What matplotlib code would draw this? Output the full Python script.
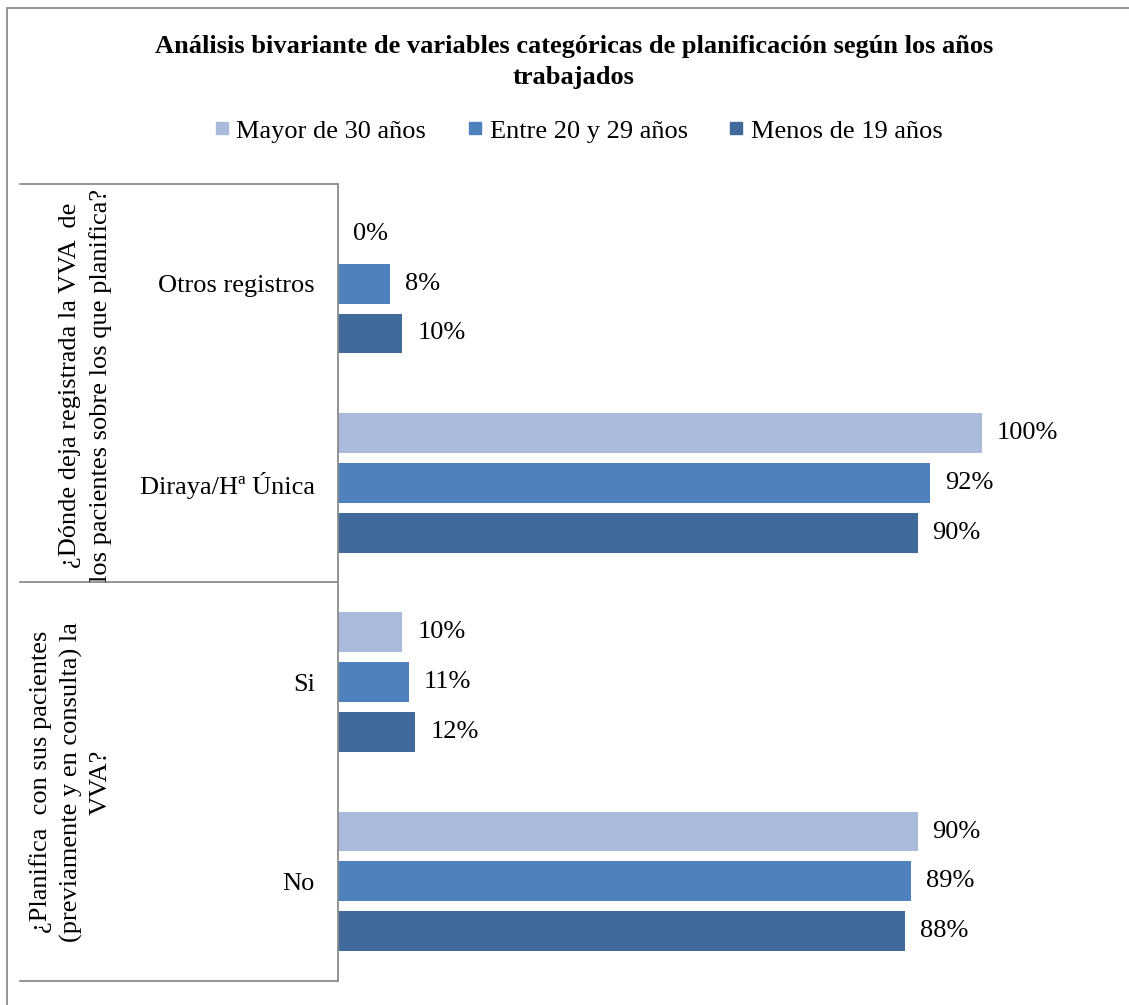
import matplotlib
matplotlib.use("Agg")
import matplotlib.pyplot as plt
from matplotlib.lines import Line2D
from matplotlib.patches import Rectangle

plt.rcParams['font.family'] = ['Liberation Serif', 'DejaVu Serif']

# --- data ---
categories = ["Otros registros", "Diraya/Hª Única", "Si", "No"]
series_names = ["Mayor de 30 años", "Entre 20 y 29 años", "Menos de 19 años"]
mayor_30 = [0, 100, 10, 90]
entre_20_29 = [8, 92, 11, 89]
menos_19 = [10, 90, 12, 88]
group_labels = [
    "¿Dónde deja registrada la VVA  de\nlos pacientes sobre los que planifica?",
    "¿Planifica  con sus pacientes\n(previamente y en consulta) la\nVVA?",
]
title = "Análisis bivariante de variables categóricas de planificación según los años\ntrabajados"

colors = ["#AABADA", "#4F81BD", "#416A9C"]
grey = "#8C8C8C"
fs = 19

W, H = 1129, 1005
fig = plt.figure(figsize=(W / 100, H / 100), dpi=100)


def fx(px):
    return px / W


def fy(py):
    return 1 - py / H


# outer chart frame
fig.patches.append(Rectangle((fx(7), fy(1010)), fx(1135), fy(8) - fy(1010),
                             transform=fig.transFigure, fill=False,
                             edgecolor=grey, lw=1.3))

# plotting area
ax_left, ax_right, ax_top, ax_bottom = 338, 1110.8, 184, 981
ax = fig.add_axes([fx(ax_left), fy(ax_bottom), fx(ax_right - ax_left),
                   fy(ax_top) - fy(ax_bottom)])

series = [mayor_30, entre_20_29, menos_19]
offsets = [-0.25, 0.0, 0.25]
bar_h = 0.2
ypos = list(range(len(categories)))
for vals, off, col, name in zip(series, offsets, colors, series_names):
    ys = [y + off for y in ypos]
    ax.barh(ys, vals, height=bar_h, color=col, label=name)
    for y, v in zip(ys, vals):
        ax.annotate(f"{v}%", (v, y), xytext=(15, 0), textcoords="offset pixels",
                    ha="left", va="center", fontsize=fs)

ax.set_xlim(0, 120)
ax.set_ylim(len(categories) - 0.5, -0.5)
ax.set_yticks(ypos)
ax.set_yticklabels(categories, fontsize=fs)
ax.tick_params(axis="y", length=0, pad=16.5)
ax.set_xticks([])
for s in ["top", "right", "bottom"]:
    ax.spines[s].set_visible(False)
ax.spines["left"].set_color(grey)
ax.spines["left"].set_linewidth(1.3)
ax.patch.set_alpha(0)

# group boxes on the category axis
for py in [184, 582, 981]:
    fig.add_artist(Line2D([fx(20), fx(338)], [fy(py), fy(py)],
                          transform=fig.transFigure, color=grey, lw=1.3))

group_centers = [385, 782]
for lab, cy in zip(group_labels, group_centers):
    fig.text(fx(112), fy(cy), lab, rotation=90, ha="right", va="center",
             multialignment="center", fontsize=fs, linespacing=1.42)

# title and legend
fig.text(fx(574), fy(62), title, ha="center", va="center", fontsize=fs,
         fontweight="bold", linespacing=1.45)

handles = [Line2D([], [], marker="s", linestyle="none", markersize=8.6,
                  color=c) for c in colors]
fig.legend(handles, series_names, loc="center", bbox_to_anchor=(fx(579), fy(131)),
           ncol=3, frameon=False, fontsize=fs, handlelength=0.5,
           handletextpad=0.3, columnspacing=1.6, borderpad=0)

fig.savefig("out.png", dpi=100)
